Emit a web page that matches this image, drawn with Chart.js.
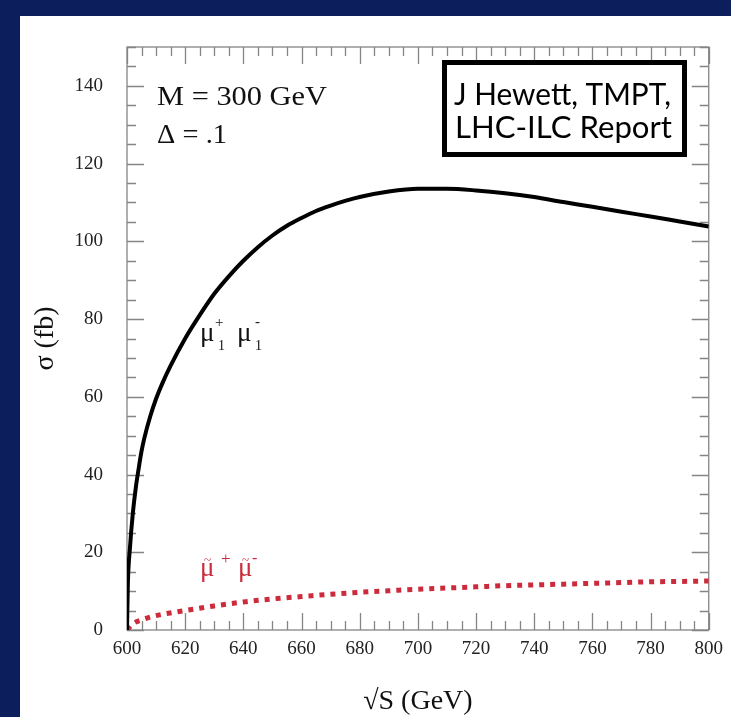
<!DOCTYPE html>
<html><head><meta charset="utf-8">
<script src="https://cdn.jsdelivr.net/npm/chart.js@4/dist/chart.umd.min.js"></script>
<style>
html,body{margin:0;padding:0;background:#0c1e5c;width:731px;height:717px;overflow:hidden}
canvas{position:absolute;left:0;top:0}
</style></head><body>
<canvas id="c" width="731" height="717"></canvas>
<script>
// ---- data ----
const xTickLabels = [600, 620, 640, 660, 680, 700, 720, 740, 760, 780, 800];
const yTickLabels = [0, 20, 40, 60, 80, 100, 120, 140];

// KK muon pair (mu1+ mu1-), sigma in fb vs sqrt(s) in GeV
const sqrtsKK = [600, 600.3, 601, 602, 603, 604, 605, 606, 608, 610, 612, 615, 620, 625, 630, 635, 640, 645, 650, 655, 660, 665, 670, 675, 680, 690, 700, 710, 720, 730, 740, 750, 760, 770, 780, 790, 800];
const sigmaKK = [0, 12, 21, 30, 36.5, 41.5, 46, 49.5, 55, 59.5, 63.2, 68, 75, 81, 86.5, 91, 95, 98.5, 101.5, 104, 106, 107.8, 109.2, 110.4, 111.4, 112.8, 113.5, 113.5, 113.1, 112.4, 111.4, 110.1, 108.9, 107.6, 106.4, 105.1, 103.8];

// smuon pair (mu~+ mu~-)
const sqrtsSmu = [600, 602, 605, 610, 620, 630, 640, 650, 660, 670, 680, 690, 700, 710, 720, 730, 740, 750, 760, 770, 780, 790, 800];
const sigmaSmu = [0, 1.6, 2.6, 3.7, 5.0, 6.2, 7.2, 8.0, 8.6, 9.2, 9.7, 10.1, 10.5, 10.8, 11.1, 11.4, 11.6, 11.8, 12.0, 12.2, 12.4, 12.5, 12.6];

const SERIF = "'Liberation Serif', 'Times New Roman', serif";
const SANS = "Lato, 'Open Sans', sans-serif";

function fitText(ctx, text, x, y, font, width, color) {
  ctx.save();
  ctx.font = font;
  ctx.fillStyle = color || '#111';
  ctx.textBaseline = 'alphabetic';
  ctx.textAlign = 'left';
  const w = ctx.measureText(text).width;
  const s = width ? width / w : 1;
  ctx.translate(x, y);
  ctx.scale(s, 1);
  ctx.fillText(text, 0, 0);
  ctx.restore();
}
function txt(ctx, text, x, y, font, color, align) {
  ctx.save();
  ctx.font = font; ctx.fillStyle = color; ctx.textBaseline = 'alphabetic'; ctx.textAlign = align || 'left';
  ctx.fillText(text, x, y);
  ctx.restore();
}

const panelPlugin = {
  id: 'panel',
  beforeDraw(chart) {
    const ctx = chart.ctx;
    ctx.save();
    ctx.fillStyle = '#ffffff';
    ctx.fillRect(20, 16, 711, 701);
    ctx.restore();
  }
};

const framePlugin = {
  id: 'frame',
  beforeDatasetsDraw(chart) {
    const {ctx, chartArea: a, scales: {x, y}} = chart;
    ctx.save();
    ctx.strokeStyle = '#858585';
    ctx.lineWidth = 1.3;
    ctx.strokeRect(a.left, a.top, a.right - a.left, a.bottom - a.top);
    const MAJ = 17, MIN = 9;
    ctx.beginPath();
    for (let v = x.min; v <= x.max + 1e-9; v += 5) {
      const px = Math.round(x.getPixelForValue(v)) + 0.5;
      const len = (Math.round(v) % 20 === 0) ? MAJ : MIN;
      ctx.moveTo(px, a.bottom); ctx.lineTo(px, a.bottom - len);
      ctx.moveTo(px, a.top); ctx.lineTo(px, a.top + len);
    }
    for (let v = y.min; v <= y.max + 1e-9; v += 5) {
      const py = Math.round(y.getPixelForValue(v)) + 0.5;
      const len = (Math.round(v) % 20 === 0) ? MAJ : MIN;
      ctx.moveTo(a.left, py); ctx.lineTo(a.left + len, py);
      ctx.moveTo(a.right, py); ctx.lineTo(a.right - len, py);
    }
    ctx.stroke();
    ctx.restore();
  }
};

const annotPlugin = {
  id: 'annot',
  afterDraw(chart) {
    const ctx = chart.ctx;
    // parameters
    fitText(ctx, 'M = 300 GeV', 157, 105, '27px ' + SERIF, 170, '#111');
    fitText(ctx, 'Δ = .1', 157, 143, '27px ' + SERIF, 70, '#111');
    // credit box
    ctx.save();
    ctx.fillStyle = '#fff';
    ctx.fillRect(444.5, 62.5, 240, 92);
    ctx.strokeStyle = '#000';
    ctx.lineWidth = 5;
    ctx.strokeRect(444.5, 62.5, 240, 92);
    ctx.restore();
    fitText(ctx, 'J Hewett, TMPT,', 454, 105, '31px ' + SANS, 217, '#000');
    fitText(ctx, 'LHC-ILC Report', 455, 138, '31px ' + SANS, 217, '#000');
    // curve labels
    const big = '27px ' + SERIF, small = '15px ' + SERIF, sub = '14px ' + SERIF;
    txt(ctx, 'μ', 200, 341, big, '#111');
    txt(ctx, '+', 215, 327, small, '#111');
    txt(ctx, '1', 218, 350, sub, '#111');
    txt(ctx, 'μ', 237, 341, big, '#111');
    txt(ctx, '-', 255, 326, small, '#111');
    txt(ctx, '1', 255, 350, sub, '#111');
    const red = '#cc2b3b';
    txt(ctx, 'μ', 200, 576, big, red);
    txt(ctx, '~', 207.5, 564, '13px ' + SERIF, red, 'center');
    txt(ctx, '+', 221, 564, '17px ' + SERIF, red);
    txt(ctx, 'μ', 238, 576, big, red);
    txt(ctx, '~', 245.5, 564, '13px ' + SERIF, red, 'center');
    txt(ctx, '-', 252, 563, '16px ' + SERIF, red);
  }
};

new Chart(document.getElementById('c'), {
  type: 'line',
  data: {
    datasets: [
      {
        label: 'μ1+ μ1-',
        data: sqrtsKK.map((s, i) => ({x: s, y: sigmaKK[i]})),
        borderColor: '#000000',
        borderWidth: 4,
        pointRadius: 0,
        cubicInterpolationMode: 'monotone',
        fill: false
      },
      {
        label: 'μ~+ μ~-',
        data: sqrtsSmu.map((s, i) => ({x: s, y: sigmaSmu[i]})),
        borderColor: '#cc2b3b',
        borderWidth: 5,
        borderDash: [5, 6],
        borderCapStyle: 'butt',
        pointRadius: 0,
        cubicInterpolationMode: 'monotone',
        fill: false
      }
    ]
  },
  options: {
    responsive: false,
    animation: false,
    layout: {padding: {left: 20, top: 47, right: 19, bottom: 0}},
    plugins: {legend: {display: false}, tooltip: {enabled: false}},
    scales: {
      x: {
        type: 'linear', min: 600, max: 800,
        afterBuildTicks: s => { s.ticks = xTickLabels.map(v => ({value: v})); },
        afterFit: s => { s.height = 87; },
        grid: {display: false, drawTicks: false},
        border: {display: false},
        ticks: {font: {family: SERIF, size: 19}, color: '#222', padding: 8, maxRotation: 0, autoSkip: false},
        title: {display: true, text: '√S (GeV)', font: {family: SERIF, size: 28, lineHeight: 1}, color: '#111', padding: {top: 0, bottom: 1}}
      },
      y: {
        type: 'linear', min: 0, max: 150,
        afterBuildTicks: s => { s.ticks = yTickLabels.map(v => ({value: v})); },
        afterFit: s => { s.width = 107; },
        grid: {display: false, drawTicks: false},
        border: {display: false},
        ticks: {font: {family: SERIF, size: 19}, color: '#222', padding: 24, autoSkip: false},
        title: {display: true, text: 'σ (fb)', font: {family: SERIF, size: 28, lineHeight: 1.2}, color: '#111', padding: {top: 9, bottom: 0}}
      }
    }
  },
  plugins: [panelPlugin, framePlugin, annotPlugin]
});
</script>
</body></html>
